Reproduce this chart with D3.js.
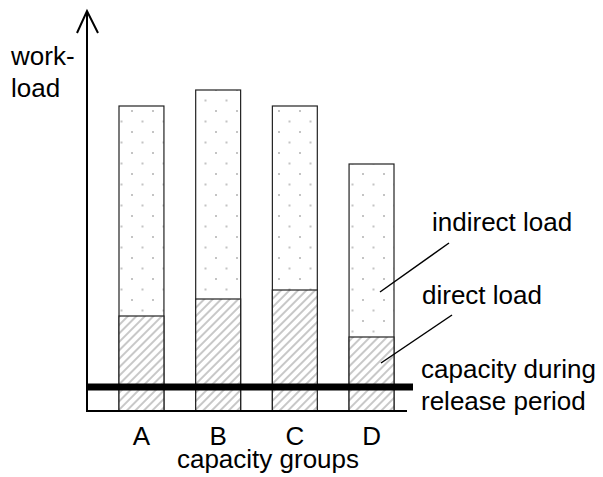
<!DOCTYPE html>
<html>
<head>
<meta charset="utf-8">
<script src="https://cdn.jsdelivr.net/npm/d3@7"></script>
<style>
  html, body { margin: 0; padding: 0; background: #fff; }
  svg { display: block; }
  text { font-family: "Liberation Sans", Arial, sans-serif; fill: #000; }
</style>
</head>
<body>
<svg id="chart" width="603" height="477"></svg>
<script>
// ---- data ----
const categories = ["A", "B", "C", "D"];
const directLoad = [95, 112, 121, 74];      // hatched part
const indirectLoad = [210, 209, 184, 173];  // dotted part, stacked on direct load
const capacity = 24;                         // capacity during release period
const yLabelLines = ["work-", "load"];
const xTitle = "capacity groups";
const annotations = ["indirect load", "direct load"];
const capacityLabelLines = ["capacity during", "release period"];

// ---- layout ----
const svg = d3.select("#chart");
const W = 603, H = 477;
const axisX = 87, axisY = 411;

const x = d3.scaleBand().domain(categories).range([119, 394]).paddingInner(0.414).paddingOuter(0);
const y = d3.scaleLinear().domain([0, 400]).range([axisY, axisY - 400]);

const defs = svg.append("defs");
const dots = defs.append("pattern").attr("id", "dots").attr("patternUnits", "userSpaceOnUse")
  .attr("width", 21).attr("height", 21).attr("x", 2).attr("y", 2);
dots.append("rect").attr("width", 21).attr("height", 21).attr("fill", "#fff");
dots.append("rect").attr("x", 3).attr("y", 3).attr("width", 2).attr("height", 2).attr("fill", "#c4c4c4");
dots.append("rect").attr("x", 13.5).attr("y", 13.5).attr("width", 2).attr("height", 2).attr("fill", "#c4c4c4");

const hatch = defs.append("pattern").attr("id", "hatch").attr("patternUnits", "userSpaceOnUse")
  .attr("width", 6).attr("height", 6).attr("patternTransform", "rotate(45)");
hatch.append("rect").attr("width", 6).attr("height", 6).attr("fill", "#fff");
hatch.append("line").attr("x1", 2).attr("y1", 0).attr("x2", 2).attr("y2", 6)
  .attr("stroke", "#c8c8c8").attr("stroke-width", 2);

const data = categories.map((c, i) => ({ c, d: directLoad[i], t: directLoad[i] + indirectLoad[i] }));

// indirect (full bar, dotted)
svg.selectAll("rect.ind").data(data).join("rect").attr("class", "ind")
  .attr("x", d => x(d.c)).attr("width", x.bandwidth())
  .attr("y", d => y(d.t)).attr("height", d => y(0) - y(d.t))
  .attr("fill", "url(#dots)").attr("stroke", "#222").attr("stroke-width", 1.2);

// direct (hatched)
svg.selectAll("rect.dir").data(data).join("rect").attr("class", "dir")
  .attr("x", d => x(d.c)).attr("width", x.bandwidth())
  .attr("y", d => y(d.d)).attr("height", d => y(0) - y(d.d))
  .attr("fill", "url(#hatch)").attr("stroke", "#222").attr("stroke-width", 1.2);

// capacity line
svg.append("line").attr("x1", axisX).attr("x2", 413)
  .attr("y1", y(capacity)).attr("y2", y(capacity))
  .attr("stroke", "#000").attr("stroke-width", 7);

// axes
svg.append("line").attr("x1", axisX).attr("x2", 407).attr("y1", axisY).attr("y2", axisY)
  .attr("stroke", "#000").attr("stroke-width", 2);
svg.append("line").attr("x1", axisX).attr("x2", axisX).attr("y1", axisY + 1).attr("y2", 11)
  .attr("stroke", "#000").attr("stroke-width", 2);
svg.append("path").attr("d", `M${axisX - 10},33 L${axisX},11 L${axisX + 11},33`)
  .attr("fill", "none").attr("stroke", "#000").attr("stroke-width", 2);

// category labels
svg.selectAll("text.cat").data(categories).join("text").attr("class", "cat")
  .attr("x", d => x(d) + x.bandwidth() / 2).attr("y", 445)
  .attr("text-anchor", "middle").attr("font-size", 26).text(d => d);

svg.append("text").attr("x", 268).attr("y", 468).attr("text-anchor", "middle")
  .attr("font-size", 26).text(xTitle);

// y label
svg.selectAll("text.yl").data(yLabelLines).join("text").attr("class", "yl")
  .attr("x", 11).attr("y", (d, i) => 65 + i * 32).attr("font-size", 26).text(d => d);

// annotations
svg.append("text").attr("x", 432).attr("y", 231).attr("font-size", 26).text(annotations[0]);
svg.append("text").attr("x", 422).attr("y", 304).attr("font-size", 26).text(annotations[1]);
svg.append("line").attr("x1", 449).attr("y1", 243).attr("x2", 380).attr("y2", 292)
  .attr("stroke", "#000").attr("stroke-width", 1.5);
svg.append("line").attr("x1", 452).attr("y1", 315).attr("x2", 381).attr("y2", 363)
  .attr("stroke", "#000").attr("stroke-width", 1.5);

svg.selectAll("text.cap").data(capacityLabelLines).join("text").attr("class", "cap")
  .attr("x", 421).attr("y", (d, i) => 378 + i * 32).attr("font-size", 26).text(d => d);
</script>
</body>
</html>
